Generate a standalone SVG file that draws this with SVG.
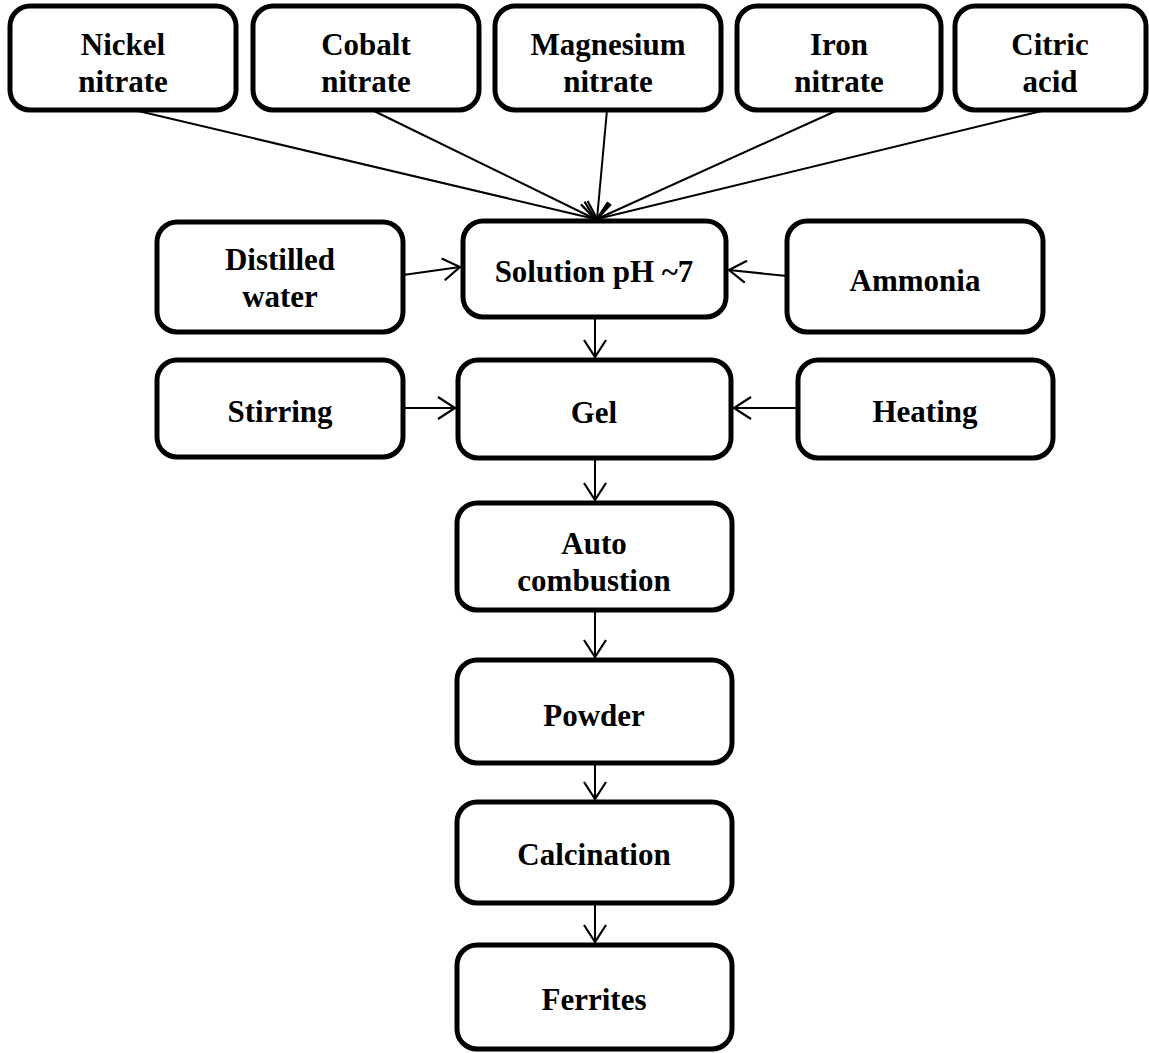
<svg xmlns="http://www.w3.org/2000/svg" width="1149" height="1053" viewBox="0 0 1149 1053">
<style>
.box{fill:#fff;stroke:#000;stroke-width:5}
.t{font-family:"Liberation Serif","Times New Roman",serif;font-weight:bold;font-size:31px;fill:#000;text-anchor:middle}
.c{stroke:#000;stroke-width:2;fill:none;marker-end:url(#ah)}
</style>
<defs>
<marker id="ah" viewBox="0 0 20 24" refX="18" refY="12" markerWidth="20" markerHeight="24" markerUnits="userSpaceOnUse" orient="auto">
<path d="M1,1 L18,12 L1,23" fill="none" stroke="#000" stroke-width="2.2"/>
</marker>
</defs>
<rect width="1149" height="1053" fill="#fff"/>
<g id="connectors">
<line class="c" x1="134" y1="110" x2="595" y2="219"/>
<line class="c" x1="372" y1="110" x2="595" y2="219"/>
<line class="c" x1="607" y1="110" x2="597" y2="219"/>
<line class="c" x1="838" y1="110" x2="597" y2="219"/>
<line class="c" x1="1046" y1="110" x2="597" y2="219"/>
<line class="c" x1="403" y1="275" x2="460" y2="267"/>
<line class="c" x1="787" y1="276" x2="729" y2="270"/>
<line class="c" x1="403" y1="408" x2="455" y2="408"/>
<line class="c" x1="798" y1="408" x2="734" y2="408"/>
<line class="c" x1="595" y1="317" x2="595" y2="357"/>
<line class="c" x1="595" y1="458" x2="595" y2="500"/>
<line class="c" x1="595" y1="610" x2="595" y2="657"/>
<line class="c" x1="595" y1="763" x2="595" y2="799"/>
<line class="c" x1="595" y1="903" x2="595" y2="942"/>
</g>
<g id="nickel"><rect class="box" x="10" y="6" width="226" height="104" rx="20"/><text class="t" x="123" y="55">Nickel</text><text class="t" x="123" y="92">nitrate</text></g>
<g id="cobalt"><rect class="box" x="253" y="6" width="226" height="104" rx="20"/><text class="t" x="366" y="55">Cobalt</text><text class="t" x="366" y="92">nitrate</text></g>
<g id="magnesium"><rect class="box" x="495" y="6" width="226" height="104" rx="20"/><text class="t" x="608" y="55">Magnesium</text><text class="t" x="608" y="92">nitrate</text></g>
<g id="iron"><rect class="box" x="737" y="6" width="204" height="104" rx="20"/><text class="t" x="839" y="55">Iron</text><text class="t" x="839" y="92">nitrate</text></g>
<g id="citric"><rect class="box" x="955" y="6" width="191" height="104" rx="20"/><text class="t" x="1050" y="55">Citric</text><text class="t" x="1050" y="92">acid</text></g>
<g id="water"><rect class="box" x="157" y="222" width="246" height="110" rx="20"/><text class="t" x="280" y="270">Distilled</text><text class="t" x="280" y="307">water</text></g>
<g id="solution"><rect class="box" x="463" y="221" width="263" height="96" rx="20"/><text class="t" x="594" y="282">Solution pH ~7</text></g>
<g id="ammonia"><rect class="box" x="787" y="221" width="256" height="111" rx="20"/><text class="t" x="915" y="291">Ammonia</text></g>
<g id="stirring"><rect class="box" x="157" y="360" width="246" height="97" rx="20"/><text class="t" x="280" y="422">Stirring</text></g>
<g id="gel"><rect class="box" x="458" y="360" width="273" height="98" rx="20"/><text class="t" x="594" y="423">Gel</text></g>
<g id="heating"><rect class="box" x="798" y="360" width="255" height="98" rx="20"/><text class="t" x="925" y="422">Heating</text></g>
<g id="auto"><rect class="box" x="457" y="503" width="275" height="107" rx="20"/><text class="t" x="594" y="554">Auto</text><text class="t" x="594" y="591">combustion</text></g>
<g id="powder"><rect class="box" x="457" y="660" width="275" height="103" rx="20"/><text class="t" x="594" y="726">Powder</text></g>
<g id="calcination"><rect class="box" x="457" y="802" width="275" height="101" rx="20"/><text class="t" x="594" y="865">Calcination</text></g>
<g id="ferrites"><rect class="box" x="457" y="945" width="275" height="104" rx="20"/><text class="t" x="594" y="1010">Ferrites</text></g>
</svg>
